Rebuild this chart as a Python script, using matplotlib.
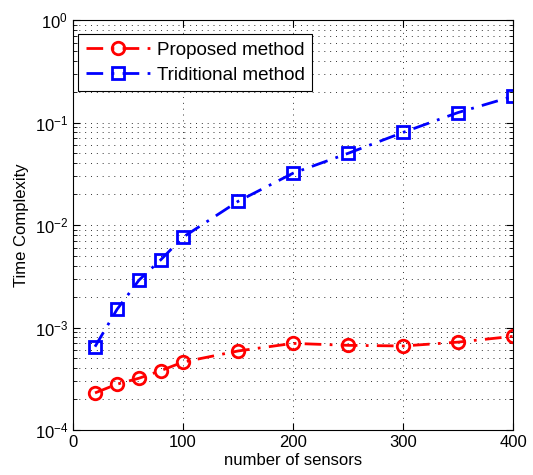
import matplotlib
matplotlib.use("Agg")
import matplotlib.pyplot as plt
from matplotlib.ticker import LogLocator, NullFormatter

x = [20, 40, 60, 80, 100, 150, 200, 250, 300, 350, 400]
proposed = [2.3e-4, 2.8e-4, 3.2e-4, 3.8e-4, 4.6e-4, 5.9e-4, 7.0e-4, 6.7e-4, 6.6e-4, 7.2e-4, 8.2e-4]
traditional = [6.5e-4, 1.5e-3, 2.9e-3, 4.6e-3, 7.6e-3, 1.7e-2, 3.2e-2, 5.0e-2, 8.0e-2, 1.25e-1, 1.8e-1]

plt.rcParams['font.family'] = ['Liberation Sans', 'DejaVu Sans']

fig = plt.figure(figsize=(5.33, 4.75), dpi=100)
ax = fig.add_axes([73/533, 45/475, 440/533, 410/475])

ax.plot(x, proposed, color='red', linestyle=(0, (6, 3, 1, 3)), linewidth=2, marker='o',
        markersize=9, markerfacecolor='none', markeredgewidth=2, label='Proposed method')
ax.plot(x, traditional, color='blue', linestyle=(0, (6, 3, 1, 3)), linewidth=2, marker='s',
        markersize=8, markerfacecolor='none', markeredgewidth=2, label='Triditional method')

ax.set_yscale('log')
ax.set_xlim(0, 400)
ax.set_ylim(1e-4, 1e0)
ax.set_xticks([0, 100, 200, 300, 400])
ax.yaxis.set_major_locator(LogLocator(base=10, numticks=10))
ax.yaxis.set_minor_locator(LogLocator(base=10, subs=range(2, 10), numticks=100))
ax.yaxis.set_minor_formatter(NullFormatter())

ax.grid(True, which='major', axis='both', linestyle=(0, (1, 5)), color='#333333', linewidth=0.7)
ax.grid(True, which='minor', axis='y', linestyle=(0, (1, 5)), color='#333333', linewidth=0.7)

ax.tick_params(which='both', direction='in', top=True, right=True, labelsize=12)
ax.tick_params(which='major', length=5)
ax.tick_params(which='minor', length=3)
for s in ax.spines.values():
    s.set_linewidth(0.8)

ax.set_xlabel('number of sensors', fontsize=12, labelpad=2)
ax.set_ylabel('Time Complexity', fontsize=12)

leg = ax.legend(loc='upper left', fontsize=13.5, frameon=True, fancybox=False,
                edgecolor='black', framealpha=1, borderpad=0.4, handlelength=3.4,
                handletextpad=0.4, labelspacing=0.4, borderaxespad=0,
                bbox_to_anchor=(0.012, 0.965))
leg.get_frame().set_linewidth(0.8)

fig.savefig('out.png', dpi=100)
